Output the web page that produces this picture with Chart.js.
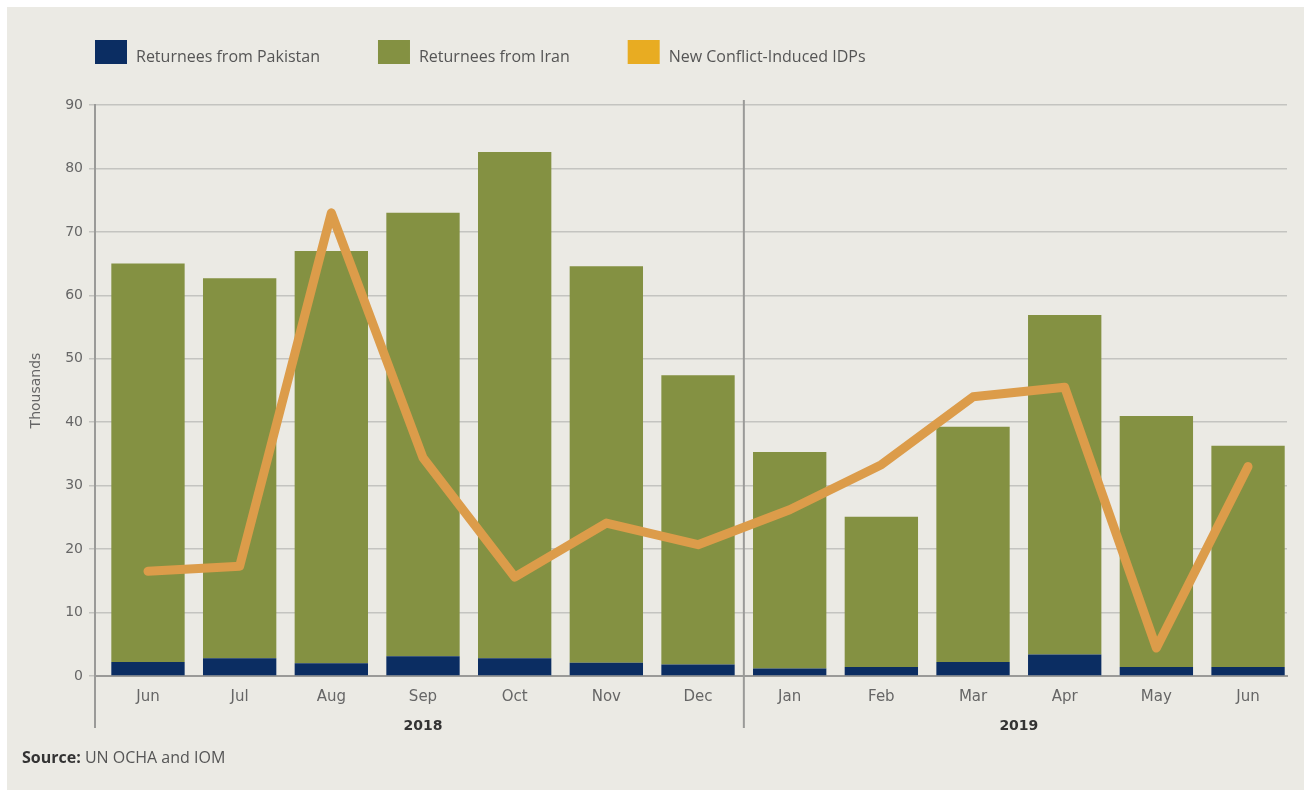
<!DOCTYPE html>
<html><head><meta charset="utf-8">
<script src="https://cdn.jsdelivr.net/npm/chart.js@4/dist/chart.umd.min.js"></script>
<style>
html,body{margin:0;padding:0;background:#ffffff;overflow:hidden;}
#bg{position:absolute;left:7px;top:7px;width:1297px;height:783px;background:#EBEAE4;}
#c{position:absolute;left:0;top:0;}
</style></head><body>
<div id="bg"></div>
<canvas id="c" width="1304" height="790"></canvas>
<script>
// ---- data ----
const months = ['Jun','Jul','Aug','Sep','Oct','Nov','Dec','Jan','Feb','Mar','Apr','May','Jun'];
const years = ['2018','2019'];
const yearMonthCounts = [7, 6];
const pakistan = [2.2, 2.8, 2.0, 3.1, 2.8, 2.1, 1.8, 1.2, 1.4, 2.2, 3.4, 1.4, 1.4];
const iran = [62.8, 59.9, 65.0, 69.9, 79.8, 62.5, 45.6, 34.1, 23.7, 37.1, 53.5, 39.6, 34.9];
const idps = [16.5, 17.3, 73.0, 34.4, 15.6, 24.1, 20.7, 26.2, 33.3, 44.0, 45.5, 4.4, 33.0];
const seriesNames = ['Returnees from Pakistan', 'Returnees from Iran', 'New Conflict-Induced IDPs'];
const yMin = 0, yMax = 90, yStep = 10;
const yTitle = 'Thousands';
const sourceLabel = 'Source:';
const sourceText = 'UN OCHA and IOM';

// ---- styles ----
const COL_PAK = '#0B2D62', COL_IRAN = '#849142', COL_LINE = '#DC9C4A', COL_IDP_LEG = '#E8AC22';
const legendColors = [COL_PAK, COL_IRAN, COL_IDP_LEG];
const AXIS = '#9A9A98', GRID = '#C4C4C0';
const FONT = "'DejaVu Sans', sans-serif";
const LFONT = "'Open Sans', sans-serif";
const X_MIN = -0.578, X_MAX = 12.425; // category band offsets (in category units)

Chart.defaults.font.family = FONT;
Chart.defaults.color = '#666';

const toXY = arr => arr.map((v, i) => ({ x: i, y: v }));

const deco = {
  id: 'deco',
  beforeDatasetsDraw(chart) {
    const ctx = chart.ctx, ca = chart.chartArea, x = chart.scales.x;
    ctx.save();
    ctx.strokeStyle = AXIS; ctx.lineWidth = 2;
    const sx = x.getPixelForValue(yearMonthCounts[0] - 0.5);
    ctx.beginPath(); ctx.moveTo(sx, ca.top - 5); ctx.lineTo(sx, ca.bottom + 52); ctx.stroke();
    ctx.beginPath(); ctx.moveTo(ca.left, ca.bottom); ctx.lineTo(ca.left, ca.bottom + 52); ctx.stroke();
    ctx.restore();
  },
  afterDraw(chart) {
    const ctx = chart.ctx, ca = chart.chartArea, x = chart.scales.x;
    ctx.save();
    ctx.font = 'bold 14px ' + FONT; ctx.fillStyle = '#333'; ctx.textAlign = 'center'; ctx.textBaseline = 'middle';
    let start = 0;
    years.forEach((y, i) => {
      const end = start + yearMonthCounts[i] - 1;
      const cx = (x.getPixelForValue(start) + x.getPixelForValue(end)) / 2;
      ctx.fillText(y, cx, ca.bottom + 50);
      start = end + 1;
    });
    ctx.font = '16px ' + LFONT; ctx.textAlign = 'left';
    let lx = ca.left;
    seriesNames.forEach((name, i) => {
      ctx.fillStyle = legendColors[i];
      ctx.fillRect(lx, 40, 32, 24);
      ctx.fillStyle = '#555';
      ctx.fillText(name, lx + 41, 57);
      lx += 41 + ctx.measureText(name).width + 58;
    });
    ctx.font = 'bold 16px ' + LFONT; ctx.fillStyle = '#333';
    ctx.fillText(sourceLabel, 22, 758);
    const w = ctx.measureText(sourceLabel + ' ').width;
    ctx.font = '16px ' + LFONT; ctx.fillStyle = '#555';
    ctx.fillText(sourceText, 22 + w, 758);
    ctx.restore();
  }
};

new Chart(document.getElementById('c'), {
  data: {
    datasets: [
      { type: 'line', label: seriesNames[2], data: toXY(idps), borderColor: COL_LINE, borderWidth: 9,
        pointRadius: 0, tension: 0, borderJoinStyle: 'round', borderCapStyle: 'round', order: 0, fill: false },
      { type: 'bar', label: seriesNames[0], data: toXY(pakistan), backgroundColor: COL_PAK, stack: 's', order: 1,
        barPercentage: 0.8, categoryPercentage: 1 },
      { type: 'bar', label: seriesNames[1], data: toXY(iran), backgroundColor: COL_IRAN, stack: 's', order: 2,
        barPercentage: 0.8, categoryPercentage: 1 }
    ]
  },
  options: {
    responsive: false, animation: false,
    layout: { padding: { top: 105, left: 20, right: 17, bottom: 74 } },
    plugins: { legend: { display: false }, tooltip: { enabled: false } },
    scales: {
      x: {
        type: 'linear', stacked: true, min: X_MIN, max: X_MAX, offset: false, bounds: 'data',
        grid: { display: false },
        border: { display: true, color: AXIS, width: 2 },
        afterBuildTicks(s) { s.ticks = months.map((m, i) => ({ value: i })); },
        ticks: { font: { size: 15 }, color: '#666', padding: 4, maxRotation: 0, autoSkip: false,
                 callback: (v) => months[v] },
        afterFit(s) { s.height = 40; }
      },
      y: {
        stacked: true, min: yMin, max: yMax,
        ticks: { stepSize: yStep, font: { size: 14 }, color: '#666', padding: 6 },
        grid: { color: GRID, lineWidth: 1.5, tickLength: 6, drawTicks: true },
        border: { display: true, color: AXIS, width: 2 },
        title: { display: true, text: yTitle, font: { size: 14 }, color: '#666', padding: { top: 8, bottom: 0 } },
        afterFit(s) { s.width = 75; }
      }
    }
  },
  plugins: [deco]
});
</script>
</body></html>
